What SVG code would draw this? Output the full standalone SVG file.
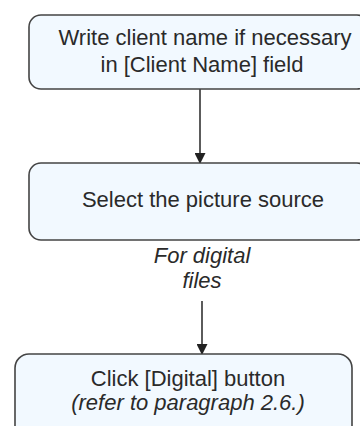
<svg xmlns="http://www.w3.org/2000/svg" width="360" height="426" viewBox="0 0 360 426">
<defs>
<style>
.box{fill:#f2f9ff;stroke:#444;stroke-width:1.6}
.t{font-family:"Liberation Sans",Arial,sans-serif;font-size:22px;fill:#2a2a2a;text-anchor:middle}
.i{font-style:italic}
.c{stroke:#333;stroke-width:1.6;fill:none}
</style>
<marker id="ah" markerWidth="11" markerHeight="11" refX="10" refY="5.5" orient="auto" markerUnits="userSpaceOnUse">
<path d="M0,0 L11,5.5 L0,11 z" fill="#222"/>
</marker>
</defs>
<rect width="360" height="426" fill="#fff"/>
<g id="connectors">
<line class="c" x1="200" y1="89" x2="200" y2="163" marker-end="url(#ah)"/>
<line class="c" x1="202" y1="301" x2="202" y2="354" marker-end="url(#ah)"/>
</g>
<g id="n1">
<rect class="box" x="29" y="15" width="340" height="74" rx="12"/>
<text class="t" x="205" y="45">Write client name if necessary</text>
<text class="t" x="202" y="72">in [Client Name] field</text>
</g>
<g id="n2">
<rect class="box" x="29" y="163" width="340" height="77" rx="12"/>
<text class="t" x="203" y="207">Select the picture source</text>
</g>
<g id="label">
<text class="t i" x="202" y="263">For digital</text>
<text class="t i" x="202" y="288">files</text>
</g>
<g id="n3">
<rect class="box" x="15" y="354" width="337" height="90" rx="14"/>
<text class="t" x="188" y="386">Click [Digital] button</text>
<text class="t i" x="188" y="410">(refer to paragraph 2.6.)</text>
</g>
</svg>
